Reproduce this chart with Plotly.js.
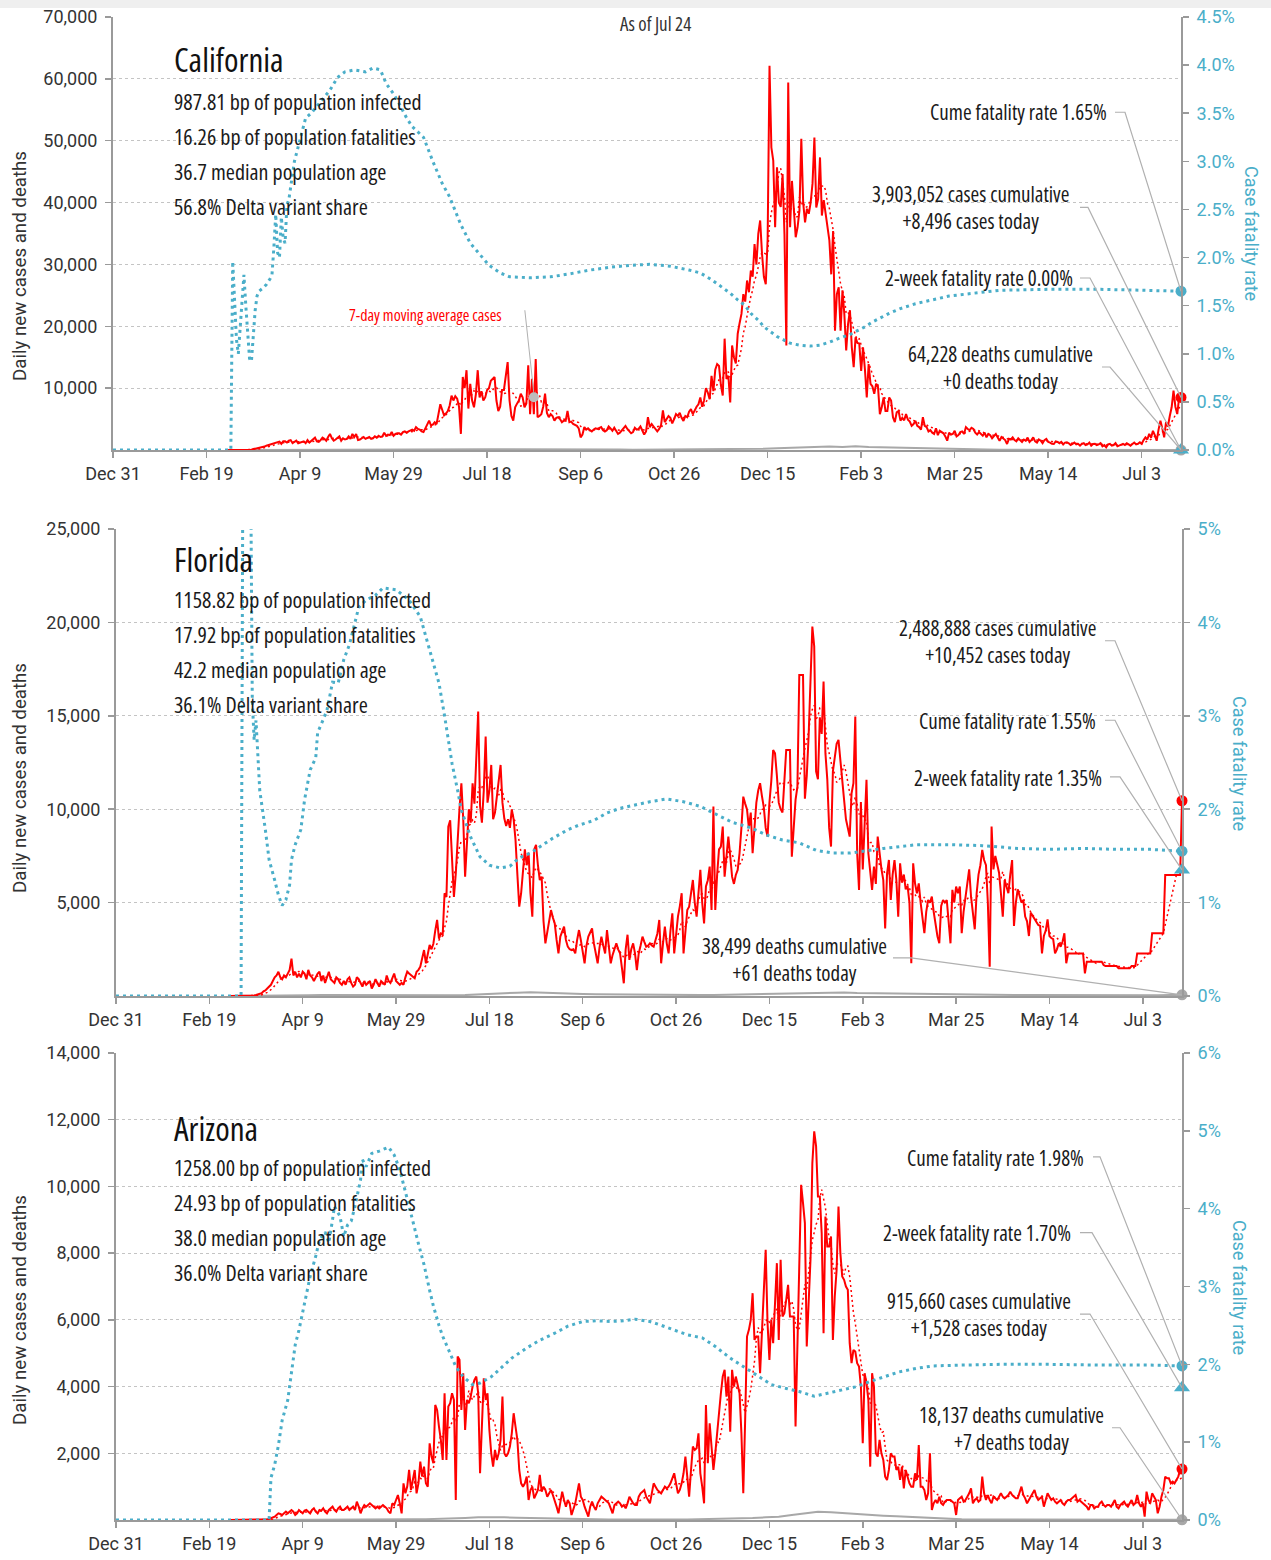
<!DOCTYPE html>
<html><head><meta charset="utf-8">
<script src="https://cdn.plot.ly/plotly-3.0.1.min.js"></script>
<style>html,body{margin:0;padding:0;background:#fff;}#chart{width:1271px;height:1560px;}
text[style*="Open Sans"]{font-stretch:75%;}
</style>
</head><body><div id="chart"></div>
<script>
// ---------------- DATA ----------------
const tickDates = ['2019-12-31','2020-02-19','2020-04-09','2020-05-29','2020-07-18','2020-09-06','2020-10-26','2020-12-15','2021-02-03','2021-03-25','2021-05-14','2021-07-03'];
const tickLabels = ['Dec 31','Feb 19','Apr 9','May 29','Jul 18','Sep 6','Oct 26','Dec 15','Feb 3','Mar 25','May 14','Jul 3'];
const firstDate = '2019-12-31';
const casesStart = '2020-03-01';
const lastDate = '2021-07-24';
const asOfLabel = 'As of Jul 24';
const maLabel = '7-day moving average cases';
const maMarkerDate = '2020-08-12';

// daily new cases from 2020-03-01
const caCases = [0,0,1,2,3,5,8,10,15,20,25,30,40,60,150,200,300,350,450,500,550,700,800,900,970,1100,1200,1300,1350,1000,1400,
1400,1200,1500,1600,1100,1300,1500,1100,1200,1300,1400,1100,1600,1200,1500,1800,2000,1400,1300,1600,2000,1800,1500,2100,2600,1900,1500,1700,2000,2200,
1500,1900,1700,1800,2200,1800,2600,2100,2600,1600,1700,1900,2100,1800,2000,2100,1800,1900,2200,2000,2300,2100,2200,2800,2300,2500,2400,2900,2300,2600,2700,
2700,2500,2900,3000,2800,3000,3200,3300,3100,3700,3400,3300,3000,2900,3500,4200,4750,4000,4100,4500,4200,5800,7400,6500,5600,5900,6300,7200,8800,8000,
8700,8300,7000,2600,11800,10000,12900,6700,10700,8000,6900,9000,12900,8500,9500,8000,8500,9700,10000,11200,11500,11800,8000,6300,7000,9700,9700,12000,14200,8000,5500,
4750,6900,7500,8000,9100,8500,6900,7500,13700,5800,11500,5800,14700,5300,5500,5800,7000,9100,6000,5300,5800,5500,4750,5200,5300,5000,4500,4750,4700,6300,4500,
4600,4200,4000,3900,3500,2050,2500,3700,3300,3500,3200,3000,3300,3500,3400,3600,3700,3200,3000,3200,3800,3500,3100,3600,3000,2600,2800,3200,3500,3900,
3400,3000,2700,2900,3600,3300,3400,3800,3100,2500,3000,5300,3700,4200,3800,3400,3000,3400,4000,6400,4500,5000,5500,5200,4300,5000,5800,5500,6000,5200,4700,
5500,5300,6200,6600,5800,6500,7000,7400,8500,7000,8000,10000,9300,8200,12000,9500,13000,13900,13600,10500,8800,18000,11500,12000,7700,16900,15000,14000,18800,20500,
22000,25200,24000,27400,25500,29000,28000,33300,30000,35000,37100,31700,28000,26800,34100,62100,48900,46800,36000,45700,40000,39300,44600,34900,16900,59400,36000,43500,38000,34400,36000,
38700,50300,40000,36800,39000,38200,40000,43100,50500,39200,40600,47300,37900,40400,38000,35400,33900,28400,35400,19300,25200,26300,19300,25800,22000,16100,20400,22600,16600,13400,18200,
17300,17200,12800,16600,13100,8500,13900,10700,10300,9100,10700,10200,5800,6900,8500,6300,6300,8500,8000,5300,4500,6100,6300,4750,5200,4800,5800,4900,
4600,3900,4200,4700,3900,3700,3300,5300,3900,3700,3000,3200,2800,2600,3500,2400,3100,2900,2700,2200,1500,2800,2500,2600,3100,2200,2400,2900,3000,2600,3700,
3400,3200,3600,3400,2800,2500,2900,2600,2300,2800,2050,2600,2400,1900,2300,2600,2000,1500,2100,1900,1600,970,1800,1700,2050,1600,1400,1900,1500,1300,
1700,1500,2000,1300,1600,2050,1400,1200,1700,1500,1100,1600,1800,1300,1200,1000,970,1400,1300,1100,1300,900,1200,1250,1100,800,1000,1200,900,1000,700,
1000,1100,800,900,1200,700,970,1000,800,900,1100,600,800,430,900,1000,700,800,1100,600,700,900,1000,800,1100,900,700,970,1200,900,
1000,1250,1000,1600,2050,1700,2600,2000,3100,2400,1500,3300,4750,3500,2050,4500,3800,5500,6900,9600,7000,5800,8500,8496];

const flCases = [0,0,1,1,2,2,3,5,8,10,15,20,25,30,50,80,100,150,250,300,400,500,600,800,1000,1100,1300,1000,900,1100,1000,
1200,1400,2000,1100,1300,1000,1200,1000,1300,1200,900,1400,1100,1000,800,1000,1200,1300,800,1100,700,1000,1300,900,800,700,1000,900,700,600,
800,600,900,1000,700,500,600,1000,900,700,500,800,600,700,800,400,600,900,700,500,800,700,600,1100,800,700,1000,1200,800,700,600,
700,600,1000,1300,1200,1100,1000,950,1300,1400,1570,2000,2460,1750,2300,2730,2500,2800,3500,4070,3070,3350,3300,5500,5300,9070,9400,7000,5300,6550,
8500,10050,11390,9460,6390,8000,10000,9280,11390,10300,12500,15230,10170,9280,11000,13890,10350,11000,12370,9460,9820,10710,11500,12370,10350,9500,9100,9460,9000,9990,9460,
8350,6500,4780,5500,6500,7850,7000,7670,5500,4250,7850,8090,7000,6210,6390,4000,2820,3500,4070,4600,4200,3890,3000,2280,3180,3400,3710,3000,2640,2500,2460,
2500,2280,3000,3530,2990,2400,1750,2700,3180,3400,3620,2800,2280,1750,2600,3180,2700,2280,3530,2600,1750,2200,2460,2820,2500,2280,1500,680,2500,3280,
1930,2500,2820,2280,1390,2280,2700,3180,2900,2640,2700,2820,2700,2640,3000,3350,4070,1750,2800,3710,2820,2280,3500,4430,2280,3300,4250,4800,5500,2280,3500,
4600,4780,5500,6210,5000,4250,5500,6750,5000,3890,5860,6200,6930,4600,10140,4600,6500,7850,8000,9070,6390,7500,8530,7500,6390,6000,6480,6750,7640,9000,
10670,10300,9990,9000,9820,7640,9000,10350,11000,11390,10700,10100,9000,8530,10350,11500,13170,12990,11800,10350,10000,9820,11500,13170,13170,13170,7460,9000,10500,11210,17190,
17190,17190,10560,11780,13920,17000,19780,18710,12030,11600,14920,14030,16830,13000,11600,9000,8000,12030,12920,13500,13710,12500,11420,10500,9460,9000,8530,10850,11390,14960,7640,
5680,10390,6780,9000,11570,7640,6500,5680,6930,6000,8530,7460,6800,6210,3620,6550,7280,5140,6500,7280,6210,4250,7100,6070,6500,5710,5890,5000,
1750,7100,6030,5500,6030,5000,4070,3360,4500,5140,5000,5320,4500,3750,3200,2820,4820,5140,5000,5140,4000,2820,5680,5000,5860,5500,5860,3360,4500,5320,6000,
6780,5320,4500,3570,5500,6500,7000,7820,7280,7000,5000,1570,9070,6780,7500,6960,6600,5500,4250,6210,5800,5500,6500,7280,3750,5000,5710,5350,5000,5140,
4250,4000,3210,4460,4300,4100,3930,3800,3750,2280,3210,3500,4100,3210,3100,3040,2280,2500,2820,2640,2900,3360,1750,2280,2280,2280,2280,2280,2280,2280,2280,
2280,1210,1840,1840,1840,1840,1840,1840,1840,1840,1840,1660,1600,1600,1600,1600,1600,1600,1600,1480,1480,1480,1480,1480,1480,1480,1600,1600,1600,2280,
2280,2280,2280,2280,2280,2280,2280,3360,3360,3360,3360,3360,3360,3360,6480,6480,6480,6480,6480,6480,6480,6480,6480,10452];

const azCases = [0,0,0,0,0,0,0,0,0,0,0,0,0,0,0,0,0,0,0,10,20,30,50,70,100,150,200,180,150,200,250,
200,250,300,250,150,200,300,250,200,280,300,250,200,300,350,250,200,300,280,350,250,200,300,350,400,300,250,350,400,300,
300,350,400,300,350,400,300,550,400,200,350,450,400,450,500,450,400,350,400,350,400,450,400,350,250,200,500,450,600,750,500,
200,1100,800,1000,1500,900,1200,1500,800,1100,1750,1300,1600,1100,1000,2300,1900,1700,3450,3300,2800,2400,1800,3800,1800,3400,3500,3800,3600,600,
4900,4800,3300,4400,2700,3600,3500,3700,4000,4200,4300,3800,1400,3000,4250,3600,3800,2700,2000,1600,2100,1800,2000,2400,3700,2000,1900,2000,2200,2600,3200,
2800,2400,1500,1100,1000,1100,1300,600,900,1000,650,800,900,1350,850,1000,900,700,800,900,750,600,400,200,600,850,600,400,600,500,150,
300,500,800,1100,700,600,400,250,100,400,550,400,300,500,600,700,650,600,550,500,350,200,450,500,550,500,400,450,350,500,
700,600,500,450,450,700,800,850,900,700,600,500,800,1100,1000,900,850,800,900,1000,950,1000,1100,1250,1400,1100,800,900,1100,1400,1900,
1300,700,1500,2200,2100,2150,2600,1400,1000,500,3450,1700,2900,2200,1500,2000,2700,3200,3800,4300,4500,3700,4300,2650,4500,4000,4300,4000,3800,2600,
800,3000,5500,5700,6000,6800,5400,5500,5500,4400,5800,7000,8100,5900,4800,6000,5300,6500,7700,5400,7800,6100,6200,6600,7050,6100,6100,6100,2800,5100,7000,
10050,9500,8900,5200,6600,7800,10700,11650,11200,9700,9700,8600,5600,9100,8200,8200,8500,5400,6700,7500,9400,8000,7300,7200,7000,6900,5300,4700,5100,5050,4700,
4600,4000,2300,4400,4100,3600,1600,4400,4000,2000,1900,2400,2000,1800,1300,1200,1500,2000,1900,1900,1500,1600,1200,1600,950,1500,1300,1100,
1000,1000,1400,1200,2250,1000,1000,900,600,800,2000,300,500,600,500,700,500,450,550,600,600,600,550,500,150,600,650,700,550,600,700,
800,950,500,600,650,550,600,1300,800,600,750,600,500,700,650,600,700,800,700,650,700,750,850,750,700,650,650,800,1000,750,
650,500,600,700,800,900,700,600,650,700,400,600,800,700,600,650,550,500,550,600,500,450,550,600,600,650,700,750,550,600,550,
500,450,400,300,450,450,350,400,400,500,550,450,400,450,450,400,500,600,400,350,450,500,550,450,400,500,600,450,500,750,
500,400,500,100,850,600,500,800,700,600,200,400,700,900,1300,1250,1250,1100,1150,1100,1200,1300,1500,1528];

// daily deaths sampled weekly from 2020-03-01
const caDeathsWeekly = [0,0,2,10,25,40,60,90,70,80,70,75,60,70,60,70,55,60,40,100,110,140,120,160,130,120,130,80,100,80,70,60,70,60,50,40,45,50,60,80,150,200,280,350,450,600,550,500,600,500,450,350,300,250,150,120,100,80,70,60,50,40,40,35,30,25,30,25,30,20,15,20,25];
const flDeathsWeekly = [0,0,1,3,8,20,40,50,45,40,35,30,30,35,30,35,25,40,50,90,130,150,180,200,170,150,130,110,100,90,80,70,60,65,60,55,50,60,70,80,90,100,110,120,140,170,180,190,160,150,140,130,110,100,90,70,60,60,55,60,55,50,45,40,35,40,35,30,40,30,35,40,50];
const azDeathsWeekly = [0,0,0,0,3,8,12,15,14,18,15,20,14,15,20,25,30,40,60,80,90,80,70,60,40,40,30,25,20,15,10,10,8,10,12,15,20,25,40,50,60,80,100,150,200,250,230,200,180,150,130,110,90,60,40,30,20,15,15,12,10,12,10,10,8,10,8,10,8,6,5,8,10];

// case fatality rate (%), day number counted from 2019-12-31
const caCfrDay = [0,63,64,65,66,67,68,69,70,71,72,73,74,75,76,77,78,80,82,84,85,86,87,88,89,90,91,92,93,94,95,96,97,99,101,103,106,108,111,116,120,124,129,135,139,143,146,150,153,157,160,166,171,176,180,186,191,196,201,207,212,223,234,244,255,266,277,287,298,308,314,320,325,330,334,338,341,345,348,352,355,359,362,367,373,378,383,388,394,398,402,406,410,415,421,429,438,447,456,465,474,500,528,550,571];
const caCfrPct = [0,0,1.96,1.55,1.15,1.0,1.25,1.6,1.82,1.5,1.2,0.95,0.92,1.2,1.45,1.6,1.65,1.68,1.72,1.78,1.82,2.1,2.45,2.05,2.0,2.42,2.2,2.15,2.55,2.6,2.75,2.9,3.0,3.15,3.3,3.45,3.5,3.55,3.62,3.74,3.87,3.93,3.95,3.93,3.97,3.95,3.81,3.7,3.6,3.45,3.36,3.25,3.0,2.77,2.63,2.34,2.15,2.03,1.92,1.84,1.8,1.79,1.8,1.83,1.87,1.9,1.92,1.93,1.91,1.87,1.84,1.77,1.7,1.63,1.56,1.5,1.42,1.35,1.28,1.22,1.18,1.14,1.11,1.09,1.08,1.09,1.12,1.16,1.2,1.24,1.28,1.33,1.37,1.42,1.47,1.52,1.56,1.6,1.62,1.64,1.66,1.67,1.67,1.66,1.65];
const flCfrDay = [0,67,68,72,73,74,75,76,77,80,82,85,87,89,91,93,94,96,99,101,104,107,108,111,113,116,119,122,125,130,134,139,143,150,157,163,168,173,176,178,180,183,185,190,195,200,206,211,216,222,227,234,242,248,256,263,270,277,286,295,304,313,322,330,340,349,357,366,375,384,393,411,429,447,464,483,500,518,536,554,571];
const flCfrPct = [0,0,6,6,3.17,2.74,2.95,2.53,2.2,1.78,1.46,1.24,1.08,0.97,1.03,1.19,1.46,1.62,1.78,2.1,2.42,2.55,2.82,2.96,3.06,3.36,3.35,3.6,3.76,4.16,4.24,4.29,4.37,4.35,4.24,4.06,3.7,3.35,3.0,2.74,2.49,2.2,1.99,1.7,1.49,1.4,1.37,1.39,1.48,1.53,1.6,1.69,1.78,1.83,1.88,1.96,2.01,2.04,2.08,2.11,2.08,2.03,1.94,1.86,1.8,1.72,1.67,1.64,1.56,1.53,1.53,1.58,1.62,1.62,1.61,1.58,1.57,1.58,1.57,1.57,1.55];
const azCfrDay = [0,82,83,85,87,89,92,94,96,98,100,102,104,107,109,112,114,116,117,120,122,124,126,128,131,132,134,137,141,146,149,152,155,159,162,165,168,170,173,175,179,182,186,191,195,201,207,212,220,227,235,242,250,257,265,272,278,286,291,299,306,314,321,329,336,344,351,359,366,374,381,389,396,404,411,419,429,438,452,474,500,527,554,571];
const azCfrPct = [0,0,0.54,0.71,0.96,1.28,1.54,1.93,2.25,2.44,2.66,2.92,3.13,3.39,3.6,3.7,3.56,3.86,4.03,3.9,3.64,3.79,3.84,4.03,4.37,4.63,4.54,4.71,4.74,4.79,4.69,4.5,4.2,3.84,3.55,3.28,2.95,2.75,2.5,2.36,2.14,1.97,1.84,1.74,1.76,1.84,1.97,2.08,2.21,2.31,2.4,2.49,2.55,2.56,2.55,2.56,2.58,2.55,2.51,2.44,2.38,2.34,2.23,2.08,1.97,1.84,1.74,1.69,1.65,1.59,1.63,1.67,1.71,1.78,1.84,1.9,1.95,1.98,1.99,2.0,2.0,1.99,1.99,1.98];

// summary figures
const caSummary = {cumCases:3903052, newCases:8496, cumDeaths:64228, newDeaths:0, cumCfr:1.65, twoWeekCfr:0.00};
const flSummary = {cumCases:2488888, newCases:10452, cumDeaths:38499, newDeaths:61, cumCfr:1.55, twoWeekCfr:1.35};
const azSummary = {cumCases:915660, newCases:1528, cumDeaths:18137, newDeaths:7, cumCfr:1.98, twoWeekCfr:1.70};

const caStats = ['987.81 bp of population infected','16.26 bp of population fatalities','36.7 median population age','56.8% Delta variant share'];
const flStats = ['1158.82 bp of population infected','17.92 bp of population fatalities','42.2 median population age','36.1% Delta variant share'];
const azStats = ['1258.00 bp of population infected','24.93 bp of population fatalities','38.0 median population age','36.0% Delta variant share'];

const caCaseTicks = [10000,20000,30000,40000,50000,60000,70000];
const flCaseTicks = [5000,10000,15000,20000,25000];
const azCaseTicks = [2000,4000,6000,8000,10000,12000,14000];
const caCfrTicks = [0,0.5,1,1.5,2,2.5,3,3.5,4,4.5];
const flCfrTicks = [0,1,2,3,4,5];
const azCfrTicks = [0,1,2,3,4,5,6];

// ---------------- STYLE / LAYOUT ----------------
const FONT_TEXT = "'Open Sans', sans-serif";           // drawn condensed via CSS font-stretch
const FONT_TICK = "Roboto, sans-serif";
const FONT_AXT = "Roboto, sans-serif";
const BLUE = '#4aaec9', RED = '#ff0000', GREY = '#a8a8a8', AXIS = '#9a9a9a', TXT = '#1a1a1a';
const W = 1271, H = 1560;
const px = v => v / W, py = v => 1 - v / H;

function addDays(s, n){ const d = new Date(s + 'T00:00:00Z'); d.setUTCDate(d.getUTCDate() + n); return d.toISOString().slice(0,10); }
function movingAverage(a, n){ return a.map((v,i) => { if(i < n-1) return null; let s = 0; for(let k=i-n+1;k<=i;k++) s += a[k]; return s/n; }); }
const fmt = v => v.toLocaleString('en-US');

const panels = [
  {name:'California', cases:caCases, deaths:caDeathsWeekly, cfrDay:caCfrDay, cfrPct:caCfrPct, sum:caSummary, stats:caStats,
   caseTicks:caCaseTicks, caseMax:70000, cfrTicks:caCfrTicks, cfrMax:4.5, cfrDec:1,
   g:{x0:113,x1:1181,top:17,bot:450}, titleY:60, statY:[101,136,171,206], yTitleY:266, rTitleX:1252, rTitleY:233,
   notes:[
     {kind:'cume', text:'Cume fatality rate '+caSummary.cumCfr.toFixed(2)+'%', x:1109, y:112, anchor:'right', path:[-66,179,-56,179]},
     {kind:'cases', text:fmt(caSummary.cumCases)+' cases cumulative<br>+'+fmt(caSummary.newCases)+' cases today', x:970, y:208, anchor:'center', path:[-101,190,-93,190]},
     {kind:'two', text:'2-week fatality rate '+caSummary.twoWeekCfr.toFixed(2)+'%', x:1075, y:278, anchor:'right', path:[-101,172,-91,172]},
     {kind:'deaths', text:fmt(caSummary.cumDeaths)+' deaths cumulative<br>+'+fmt(caSummary.newDeaths)+' deaths today', x:1000, y:367, anchor:'center', path:[-79,83,-71,83]}
   ]},
  {name:'Florida', cases:flCases, deaths:flDeathsWeekly, cfrDay:flCfrDay, cfrPct:flCfrPct, sum:flSummary, stats:flStats,
   caseTicks:flCaseTicks, caseMax:25000, cfrTicks:flCfrTicks, cfrMax:5, cfrDec:0,
   g:{x0:116,x1:1182,top:529,bot:996}, titleY:559, statY:[599,634,669,704], yTitleY:778, rTitleX:1240, rTitleY:763,
   notes:[
     {kind:'cases', text:fmt(flSummary.cumCases)+' cases cumulative<br>+'+fmt(flSummary.newCases)+' cases today', x:997, y:641, anchor:'center', path:[-77,160,-67,160]},
     {kind:'cume', text:'Cume fatality rate '+flSummary.cumCfr.toFixed(2)+'%', x:1098, y:721, anchor:'right', path:[-77,131,-67,131]},
     {kind:'two', text:'2-week fatality rate '+flSummary.twoWeekCfr.toFixed(2)+'%', x:1104, y:778, anchor:'right', path:[-72,93,-62,93]},
     {kind:'deaths', text:fmt(flSummary.cumDeaths)+' deaths cumulative<br>+'+fmt(flSummary.newDeaths)+' deaths today', x:794, y:959, anchor:'center', path:[-289,37,-271,37]}
   ]},
  {name:'Arizona', cases:azCases, deaths:azDeathsWeekly, cfrDay:azCfrDay, cfrPct:azCfrPct, sum:azSummary, stats:azStats,
   caseTicks:azCaseTicks, caseMax:14000, cfrTicks:azCfrTicks, cfrMax:6, cfrDec:0,
   g:{x0:116,x1:1182,top:1053,bot:1520}, titleY:1128, statY:[1167,1202,1237,1272], yTitleY:1310, rTitleX:1240, rTitleY:1287,
   notes:[
     {kind:'cume', text:'Cume fatality rate '+azSummary.cumCfr.toFixed(2)+'%', x:1086, y:1158, anchor:'right', path:[-89,209,-82,209]},
     {kind:'two', text:'2-week fatality rate '+azSummary.twoWeekCfr.toFixed(2)+'%', x:1073, y:1233, anchor:'right', path:[-102,155,-90,155]},
     {kind:'cases', text:fmt(azSummary.cumCases)+' cases cumulative<br>+'+fmt(azSummary.newCases)+' cases today', x:979, y:1314, anchor:'center', path:[-102,155,-92,155]},
     {kind:'deaths', text:fmt(azSummary.cumDeaths)+' deaths cumulative<br>+'+fmt(azSummary.newDeaths)+' deaths today', x:1011, y:1428, anchor:'center', path:[-70,92,-62,92]}
   ]}
];

const traces = [];
const layout = {
  width: W, height: H, margin:{l:0,r:0,t:0,b:0,pad:0}, showlegend:false,
  paper_bgcolor:'#ffffff', plot_bgcolor:'rgba(0,0,0,0)',
  font:{family:FONT_TEXT, size:18, color:TXT},
  annotations: [], shapes: [
    {type:'rect', xref:'paper', yref:'paper', x0:0, x1:1, y0:py(8), y1:1, fillcolor:'#efefef', line:{width:0}, layer:'below'}
  ]
};

panels.forEach((P, i) => {
  const xa = i === 0 ? 'x' : 'x' + (i+1);
  const yc = i === 0 ? 'y' : 'y' + (2*i+1);
  const yr = 'y' + (2*i+2);
  const xKey = 'xaxis' + (i === 0 ? '' : i+1);
  const ycKey = 'yaxis' + (i === 0 ? '' : 2*i+1);
  const yrKey = 'yaxis' + (2*i+2);
  const g = P.g;

  const caseDates = P.cases.map((_, k) => addDays(casesStart, k));
  const ma = movingAverage(P.cases, 7);
  const deathX = P.deaths.map((_, k) => addDays(casesStart, 7*k)).concat([lastDate]);
  const deathY = P.deaths.concat([P.sum.newDeaths]);
  const cfrX = P.cfrDay.map(d => addDays(firstDate, d));
  const lastCase = P.cases[P.cases.length-1];

  traces.push({x:deathX, y:deathY, xaxis:xa, yaxis:yc, type:'scatter', mode:'lines', line:{color:GREY, width:2}, hoverinfo:'skip'});
  traces.push({x:caseDates, y:P.cases, xaxis:xa, yaxis:yc, type:'scatter', mode:'lines', line:{color:RED, width:2}, hoverinfo:'skip'});
  traces.push({x:caseDates, y:ma, xaxis:xa, yaxis:yc, type:'scatter', mode:'lines', line:{color:RED, width:1.5, dash:'2px,3px'}, hoverinfo:'skip'});
  traces.push({x:[lastDate], y:[P.sum.newDeaths], xaxis:xa, yaxis:yc, type:'scatter', mode:'markers', marker:{color:GREY, size:11}, cliponaxis:false, hoverinfo:'skip'});
  traces.push({x:[lastDate], y:[lastCase], xaxis:xa, yaxis:yc, type:'scatter', mode:'markers', marker:{color:RED, size:11}, cliponaxis:false, hoverinfo:'skip'});
  traces.push({x:cfrX, y:P.cfrPct, xaxis:xa, yaxis:yr, type:'scatter', mode:'lines', line:{color:BLUE, width:3, dash:'3px,4px'}, hoverinfo:'skip'});
  traces.push({x:[lastDate], y:[P.sum.cumCfr], xaxis:xa, yaxis:yr, type:'scatter', mode:'markers', marker:{color:BLUE, size:11}, cliponaxis:false, hoverinfo:'skip'});
  traces.push({x:[lastDate], y:[P.sum.twoWeekCfr], xaxis:xa, yaxis:yr, type:'scatter', mode:'markers', marker:{color:BLUE, size:14, symbol:'triangle-up'}, cliponaxis:false, hoverinfo:'skip'});

  if (i === 0) {
    const mi = caseDates.indexOf(maMarkerDate);
    traces.push({x:[maMarkerDate], y:[ma[mi]], xaxis:xa, yaxis:yc, type:'scatter', mode:'markers', marker:{color:'#bdbdbd', size:10}, hoverinfo:'skip'});
    layout.shapes.push({type:'path', xref:xa, yref:yc, xsizemode:'pixel', ysizemode:'pixel', xanchor:maMarkerDate, yanchor:ma[mi], path:'M-9,87L0,4', line:{color:'#b0b0b0', width:1}});
    layout.annotations.push({xref:'paper', yref:'paper', x:px(425), y:py(315), text:maLabel, showarrow:false, xanchor:'center', yanchor:'middle', font:{family:FONT_TEXT, size:16, color:RED}});
    layout.annotations.push({xref:'paper', yref:'paper', x:px(655), y:py(24), text:asOfLabel, showarrow:false, xanchor:'center', yanchor:'middle', font:{family:FONT_TEXT, size:19, color:'#333'}});
  }

  const tickFont = {family:FONT_TICK, size:18, color:'#333'};
  layout[xKey] = {domain:[px(g.x0), px(g.x1)], anchor:yc, type:'date', range:[firstDate, lastDate],
    tickmode:'array', tickvals:tickDates, ticktext:tickLabels, ticks:'outside', ticklen:6, tickwidth:1.5, tickcolor:AXIS,
    showline:true, linecolor:AXIS, linewidth:2, showgrid:false, zeroline:false, tickfont:tickFont, fixedrange:true};
  layout[ycKey] = {domain:[py(g.bot), py(g.top)], anchor:xa, range:[0, P.caseMax],
    tickmode:'array', tickvals:P.caseTicks, ticktext:P.caseTicks.map(fmt), ticks:'outside', ticklen:6, tickwidth:1.5, tickcolor:AXIS, ticklabelstandoff:4,
    showline:true, linecolor:AXIS, linewidth:2, showgrid:true, gridcolor:'#c4c4c4', griddash:'dot', gridwidth:1, zeroline:false, tickfont:tickFont, fixedrange:true};
  layout[yrKey] = {overlaying:yc, side:'right', anchor:xa, range:[0, P.cfrMax],
    tickmode:'array', tickvals:P.cfrTicks, ticktext:P.cfrTicks.map(v => v.toFixed(P.cfrDec)+'%'), ticks:'outside', ticklen:6, tickwidth:1.5, tickcolor:AXIS, ticklabelstandoff:4,
    showline:true, linecolor:AXIS, linewidth:2, showgrid:false, zeroline:false, tickfont:{family:FONT_TICK, size:18, color:BLUE}, fixedrange:true};

  // texts
  layout.annotations.push({xref:'paper', yref:'paper', x:px(172), y:py(P.titleY), text:P.name, showarrow:false, xanchor:'left', yanchor:'middle', font:{family:FONT_TEXT, size:33, color:'#111', weight:500}});
  P.stats.forEach((s, k) => layout.annotations.push({xref:'paper', yref:'paper', x:px(172), y:py(P.statY[k]), text:s, showarrow:false, xanchor:'left', yanchor:'middle', font:{family:FONT_TEXT, size:22, color:TXT}}));
  layout.annotations.push({xref:'paper', yref:'paper', x:px(20), y:py(P.yTitleY), text:'Daily new cases and deaths', textangle:-90, showarrow:false, xanchor:'center', yanchor:'middle', font:{family:FONT_AXT, size:18.7, color:'#333'}});
  layout.annotations.push({xref:'paper', yref:'paper', x:px(P.rTitleX), y:py(P.rTitleY), text:'Case fatality rate', textangle:90, showarrow:false, xanchor:'center', yanchor:'middle', font:{family:FONT_AXT, size:18, color:BLUE}});

  P.notes.forEach(n => {
    layout.annotations.push({xref:'paper', yref:'paper', x:px(n.x), y:py(n.y), text:n.text, showarrow:false, xanchor:n.anchor, yanchor:'middle', align:'center', font:{family:FONT_TEXT, size:21, color:TXT}});
    let yref = yc, yv = lastCase;
    if (n.kind === 'cume') { yref = yr; yv = P.sum.cumCfr; }
    if (n.kind === 'two') { yref = yr; yv = P.sum.twoWeekCfr; }
    if (n.kind === 'deaths') { yref = yc; yv = P.sum.newDeaths; }
    const p = n.path;
    layout.shapes.push({type:'path', xref:xa, yref:yref, xsizemode:'pixel', ysizemode:'pixel', xanchor:lastDate, yanchor:yv,
      path:'M'+p[0]+','+p[1]+'L'+p[2]+','+p[3]+'L0,0', line:{color:'#b0b0b0', width:1.2}});
  });
});

Plotly.newPlot('chart', traces, layout, {displayModeBar:false, staticPlot:true});
</script>
</body></html>
